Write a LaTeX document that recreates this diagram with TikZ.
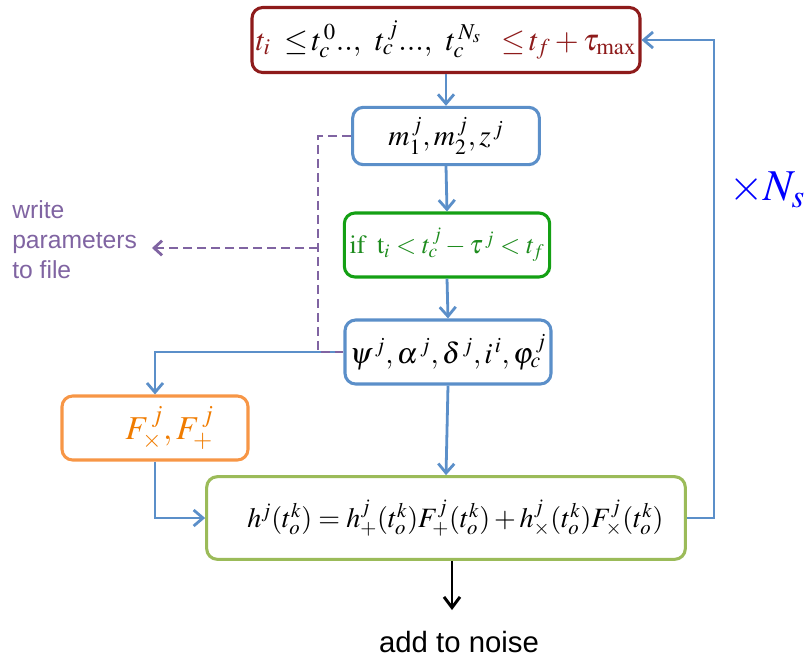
\documentclass[tikz,border=0pt]{standalone}
\usepackage{fontspec}
\usepackage{mathptmx}
\setsansfont{Liberation Sans}
\usetikzlibrary{arrows.meta}
\definecolor{dred}{HTML}{8E1B1B}
\definecolor{lblue}{HTML}{5B8FC9}
\definecolor{bgreen}{HTML}{14A014}
\definecolor{tgreen}{HTML}{1E8C1E}
\definecolor{lgreen}{HTML}{9BBB59}
\definecolor{orng}{HTML}{F79646}
\definecolor{torng}{HTML}{F07C00}
\definecolor{purp}{HTML}{8064A2}
\tikzset{
  box/.style={draw, line width=2.3pt, rounded corners=8pt, fill=white, align=center, inner sep=2pt},
  conn/.style={draw=lblue, line width=2.1pt, -{Straight Barb[length=7pt,width=12pt,line width=2.1pt]}},
  purpdash/.style={draw=purp, line width=2.1pt, dash pattern=on 6.5pt off 4pt},
}
\begin{document}
\begin{tikzpicture}[x=0.75pt,y=-0.75pt]
\useasboundingbox (0,0) rectangle (805,658);
\node[box, draw=dred, minimum width=291pt, minimum height=48.75pt, font=\fontsize{23}{26}\selectfont] (top) at (446,40)
  {$\color{dred}t_i\;\;\color{black}{\le}\,t_c^{\,0}..,\;\, t_c^{\,j}...,\;\, t_c^{\,N_s}\;\;\;\color{dred}{\le}\,t_f+\tau_{\max}$};
\node[box, draw=lblue, minimum width=140pt, minimum height=43pt, font=\fontsize{22}{26}\selectfont] (m) at (446,136)
  {$m_1^{\,j},m_2^{\,j},z^{\,j}$};
\node[box, draw=bgreen, minimum width=154pt, minimum height=48pt, text=tgreen, font=\fontsize{19.5}{22}\selectfont] (if) at (447,245)
  {\color{tgreen}$\mathrm{if}\;\;\mathrm{t}_i<t_c^{\,j}-\tau^{\,j}<t_f$};
\node[box, draw=lblue, minimum width=154.5pt, minimum height=48pt, font=\fontsize{22}{26}\selectfont] (psi) at (448,352)
  {$\psi^{\,j},\alpha^{\,j},\delta^{\,j},i^{\,i},\varphi_c^{\,j}$};
\node[box, draw=orng, minimum width=139.5pt, minimum height=48pt, text=torng, font=\fontsize{25}{28}\selectfont] (F) at (155,428)
  {\hspace*{22pt}$F_\times^{\,j},F_+^{\,j}$};
\node[box, draw=lgreen, minimum width=359pt, minimum height=62pt, font=\fontsize{21}{24}\selectfont] (h) at (446,518)
  {\hspace*{14pt}$h^j(t_o^k)=h_+^j(t_o^k)F_+^j(t_o^k)+h_\times^j(t_o^k)F_\times^j(t_o^k)$};
\node[font=\sffamily\fontsize{22}{26}\selectfont, anchor=base] (noise) at (459,652) {add to noise};
\node[font=\sffamily\fontsize{18.5}{22.5}\selectfont, text=purp, align=left, anchor=north west, inner sep=0pt] (write) at (12,200) {write\\parameters\\to file};
\node[text=blue, font=\fontsize{33}{36}\selectfont, inner sep=0pt] (Ns) at (767,190) {$\times N_s$};
\coordinate (loopR) at (714,518);
\coordinate (dL) at (318,136);
\coordinate (dLow) at (318,352);
\coordinate (dMid) at (318,248);
\coordinate (wArr) at (152,248);
\coordinate (noiseArr) at (452,610);
% connectors
\draw[conn] (top.south) -- (m.north);
\draw[conn] (m.south) -- (if.north);
\draw[conn] (if.south) -- (psi.north);
\draw[conn] (psi.south) -- (h.north);
\draw[conn] (psi.west) -- (155,352) -- (F.north);
\draw[conn] (F.south) |- (h.west);
\draw[conn] (h.east) -- (loopR) |- (top.east);
\draw[line width=2.2pt, -{Straight Barb[length=8pt,width=12pt,line width=2.2pt]}] (h.south -| noiseArr) -- (noiseArr);
\draw[purpdash] (m.west) -- (dL) -- (dLow) -- (psi.west);
\draw[purpdash, -{Straight Barb[length=6pt,width=11pt,line width=2.1pt]}] (dMid) -- (wArr);
\end{tikzpicture}
\end{document}
